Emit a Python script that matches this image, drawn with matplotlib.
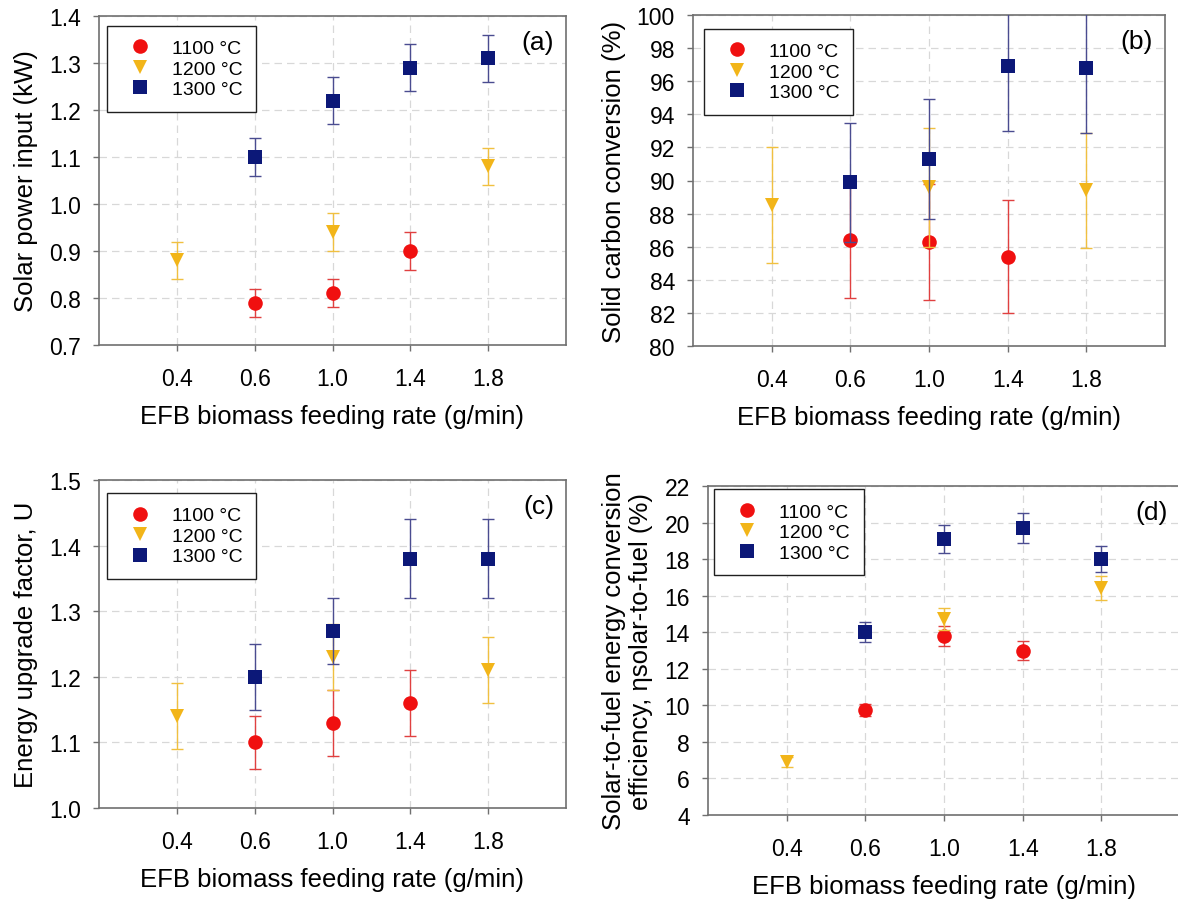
import numpy as np
import matplotlib
matplotlib.use("Agg")
import matplotlib.pyplot as plt
from matplotlib.lines import Line2D

plt.rcParams['font.family'] = ['Liberation Sans', 'DejaVu Sans']

nan = np.nan
rates = ['0.4', '0.6', '1.0', '1.4', '1.8']
temps = ['1100 °C', '1200 °C', '1300 °C']

# (a) Solar power input (kW)
a_1100 = [nan, 0.79, 0.81, 0.90, nan]
a_1100_err = [nan, 0.03, 0.03, 0.04, nan]
a_1200 = [0.88, nan, 0.94, nan, 1.08]
a_1200_err = [0.04, nan, 0.04, nan, 0.04]
a_1300 = [nan, 1.10, 1.22, 1.29, 1.31]
a_1300_err = [nan, 0.04, 0.05, 0.05, 0.05]

# (b) Solid carbon conversion (%)
b_1100 = [nan, 86.4, 86.3, 85.4, nan]
b_1100_err = [nan, 3.5, 3.5, 3.4, nan]
b_1200 = [88.5, nan, 89.6, nan, 89.4]
b_1200_err = [3.5, nan, 3.6, nan, 3.5]
b_1300 = [nan, 89.9, 91.3, 96.9, 96.8]
b_1300_err = [nan, 3.6, 3.6, 3.9, 3.9]

# (c) Energy upgrade factor, U
c_1100 = [nan, 1.10, 1.13, 1.16, nan]
c_1100_err = [nan, 0.04, 0.05, 0.05, nan]
c_1200 = [1.14, nan, 1.23, nan, 1.21]
c_1200_err = [0.05, nan, 0.05, nan, 0.05]
c_1300 = [nan, 1.20, 1.27, 1.38, 1.38]
c_1300_err = [nan, 0.05, 0.05, 0.06, 0.06]

# (d) Solar-to-fuel efficiency (%)
d_1100 = [nan, 9.75, 13.8, 13.0, nan]
d_1100_err = [nan, 0.35, 0.55, 0.5, nan]
d_1200 = [6.9, nan, 14.7, nan, 16.4]
d_1200_err = [0.3, nan, 0.6, nan, 0.65]
d_1300 = [nan, 14.0, 19.1, 19.7, 18.0]
d_1300_err = [nan, 0.55, 0.75, 0.8, 0.7]

marker_colors = ['#f01010', '#f2b519', '#0c1878']
err_colors = ['#e04040', '#f0c040', '#4a4c90']
markers = ['o', 'v', 's']
msizes = [10.5, 10.5, 9.5]

W, H = 1178, 903
fig = plt.figure(figsize=(W / 100, H / 100), dpi=100)

def px_axes(left, right, top, bottom):
    return fig.add_axes([left / W, (H - bottom) / H, (right - left) / W, (bottom - top) / H])

panels = [
    dict(box=(99, 566, 17, 346), series=[(a_1100, a_1100_err), (a_1200, a_1200_err), (a_1300, a_1300_err)],
         ylim=(0.7, 1.4), yticks=np.arange(0.7, 1.401, 0.1), fmt='{:.1f}', ylabel='Solar power input (kW)',
         tag='(a)', leg=(0.017, 0.97)),
    dict(box=(693, 1165, 16, 347), series=[(b_1100, b_1100_err), (b_1200, b_1200_err), (b_1300, b_1300_err)],
         ylim=(80, 100), yticks=np.arange(80, 100.1, 2), fmt='{:.0f}', ylabel='Solid carbon conversion (%)',
         tag='(b)', leg=(0.023, 0.958)),
    dict(box=(99, 566, 481, 809), series=[(c_1100, c_1100_err), (c_1200, c_1200_err), (c_1300, c_1300_err)],
         ylim=(1.0, 1.5), yticks=np.arange(1.0, 1.501, 0.1), fmt='{:.1f}', ylabel='Energy upgrade factor, U',
         tag='(c)', leg=(0.017, 0.96)),
    dict(box=(708, 1180, 487, 816), series=[(d_1100, d_1100_err), (d_1200, d_1200_err), (d_1300, d_1300_err)],
         ylim=(4, 22), yticks=np.arange(4, 22.1, 2), fmt='{:.0f}',
         ylabel='Solar-to-fuel energy conversion\nefficiency, ηsolar-to-fuel (%)',
         tag='(d)', leg=(0.013, 0.99)),
]

x = np.arange(1, len(rates) + 1)

for p in panels:
    ax = px_axes(*p['box'])
    for i, (vals, errs) in enumerate(p['series']):
        ax.errorbar(x, vals, yerr=errs, fmt='none', ecolor=err_colors[i], elinewidth=1.0,
                    capsize=4.5, capthick=1.0, zorder=3 + i)
        ax.plot(x, vals, linestyle='none', marker=markers[i], color=marker_colors[i],
                markersize=msizes[i], markeredgewidth=0, zorder=3.5 + i)
    ax.set_xlim(0, 6)
    ax.set_ylim(*p['ylim'])
    ax.set_xticks(x)
    ax.set_xticklabels(rates)
    ax.set_yticks(p['yticks'])
    ax.set_yticklabels([p['fmt'].format(v) for v in p['yticks']])
    ax.grid(True, color='#d8d8d8', linestyle=(0, (6, 4)), linewidth=0.9, zorder=0)
    ax.set_axisbelow(True)
    for s in ax.spines.values():
        s.set_color('#707070')
        s.set_linewidth(1.2)
    ax.tick_params(direction='out', length=4, width=1, color='#707070', labelsize=16.5)
    ax.tick_params(axis='y', pad=9)
    ax.tick_params(axis='x', pad=12)
    ax.set_xlabel('EFB biomass feeding rate (g/min)', fontsize=18.5, labelpad=10)
    ax.set_ylabel(p['ylabel'], fontsize=18.5, labelpad=8, linespacing=1.15)
    ax.text(0.975, 0.92, p['tag'], transform=ax.transAxes, ha='right', va='center', fontsize=19)
    handles = [Line2D([], [], linestyle='none', marker=markers[i], color=marker_colors[i],
                      markersize=msizes[i], markeredgewidth=0) for i in range(3)]
    leg = ax.legend(handles, temps, loc='upper left', bbox_to_anchor=p['leg'], borderaxespad=0,
                    fancybox=False, framealpha=1, edgecolor='#202020', fontsize=14,
                    handletextpad=0.65, borderpad=0.7, labelspacing=0.15, handlelength=2.0)
    leg.get_frame().set_linewidth(1.0)
    leg.set_zorder(10)

fig.savefig('out.png', dpi=100)
